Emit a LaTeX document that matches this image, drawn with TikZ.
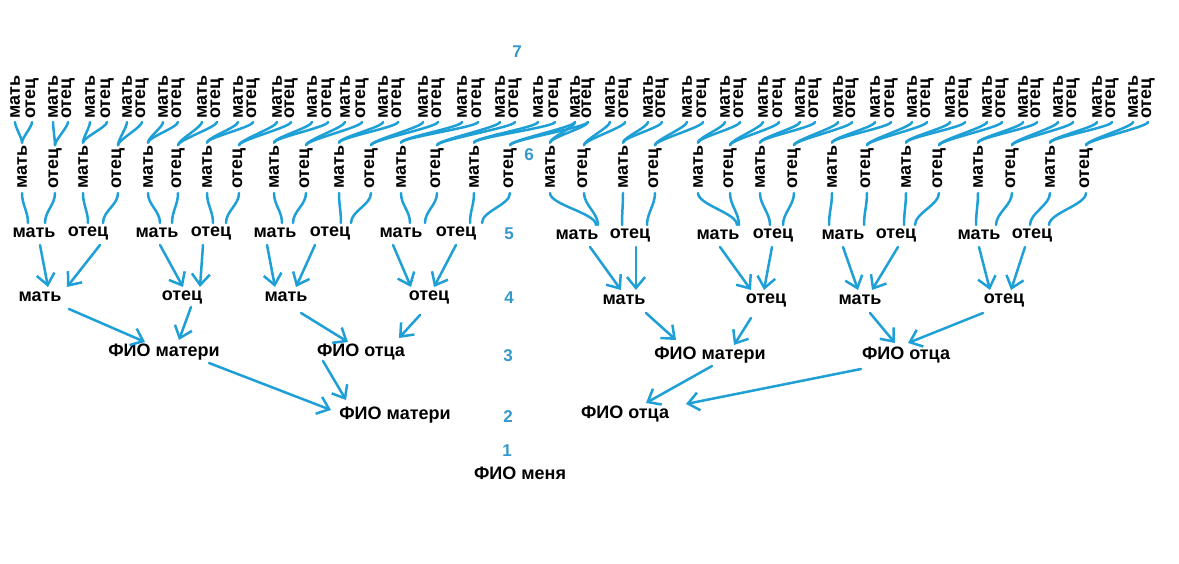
\documentclass[tikz,border=0pt]{standalone}
\usepackage{fontspec}
\setmainfont{Liberation Sans}
\usetikzlibrary{arrows.meta,calc}
\definecolor{arr}{RGB}{30,160,215}
\definecolor{numc}{RGB}{52,152,204}
\begin{document}
\begin{tikzpicture}[x=1pt,y=-1pt,
  lbl/.style={font=\fontsize{18}{21}\selectfont\bfseries, inner sep=0pt, text=black},
  vlbl/.style={lbl, rotate=90, anchor=west},
  numl/.style={font=\fontsize{17}{20}\selectfont\bfseries, text=numc, inner sep=0pt},
  ln/.style={draw=arr, line width=2.5pt, line cap=round, line join=round},
  arw/.style={ln, -{Straight Barb[length=11pt,width=18pt]}}]
\useasboundingbox[fill=white] (0,0) rectangle (1179,564);

% level numbers
\node[numl] (l7) at (517,52) {7};
\node[numl] (l6) at (529,155) {6};
\node[numl] (l5) at (509,234) {5};
\node[numl] (l4) at (509,298) {4};
\node[numl] (l3) at (508,356) {3};
\node[numl] (l2) at (508,417) {2};
\node[numl] (l1) at (507,451) {1};

% level 7 (31 pairs)
\foreach \i/\m/\f in {1/15/32, 2/53/68, 3/90/107, 4/127/142, 5/163/178, 6/202/217,
  7/238/253, 8/277/291, 9/312/328, 10/345/362, 11/383/398, 12/423/438, 13/462/478,
  14/500/515, 15/538/555, 16/575/588, 17/610/625, 18/648/662, 19/687/703, 20/725/740,
  21/763/779, 22/800/815, 23/838/852, 24/875/891, 25/912/927, 26/950/965, 27/987/1002,
  28/1023/1037, 29/1058/1073, 30/1097/1112, 31/1133/1148}{
  \node[vlbl] (m7_\i) at (\m,119) {мать};
  \node[vlbl] (f7_\i) at (\f,119) {отец};
}

% level 6 (32 labels)
\foreach \i/\x/\t in {1/22/мать, 2/55/отец, 3/83/мать, 4/118/отец, 5/148/мать, 6/178/отец,
  7/207/мать, 8/239/отец, 9/274/мать, 10/306/отец, 11/339/мать, 12/371/отец,
  13/401/мать, 14/437/отец, 15/474/мать, 16/510/отец, 17/550/мать, 18/584/отец,
  19/623/мать, 20/655/отец, 21/698/мать, 22/730/отец, 23/760/мать, 24/794/отец,
  25/832/мать, 26/867/отец, 27/906/мать, 28/939/отец, 29/978/мать, 30/1012/отец,
  31/1050/мать, 32/1086/отец}{
  \node[vlbl] (n6_\i) at (\x,189) {\t};
}

% level 5
\foreach \i/\x/\y/\t in {1/34/233/мать, 2/88/233/отец, 3/157/233/мать, 4/211/233/отец,
  5/275/233/мать, 6/330/233/отец, 7/401/233/мать, 8/456/233/отец,
  9/577/235/мать, 10/630/235/отец, 11/718/235/мать, 12/773/235/отец,
  13/843/235/мать, 14/896/235/отец, 15/979/235/мать, 16/1032/235/отец}{
  \node[lbl] (n5_\i) at (\x,\y) {\t};
}

% level 4
\foreach \i/\x/\y/\t in {1/40/297/мать, 2/182/297/отец, 3/286/297/мать, 4/429/297/отец,
  5/624/300/мать, 6/766/300/отец, 7/860/300/мать, 8/1004/300/отец}{
  \node[lbl] (n4_\i) at (\x,\y) {\t};
}

% level 3, 2, 1
\node[lbl] (n3_1) at (164,352) {ФИО матери};
\node[lbl] (n3_2) at (361,352) {ФИО отца};
\node[lbl] (n3_3) at (710,355) {ФИО матери};
\node[lbl] (n3_4) at (906,355) {ФИО отца};
\node[lbl] (n2_1) at (395,415) {ФИО матери};
\node[lbl] (n2_2) at (625,414) {ФИО отца};
\node[lbl] (me) at (520,473) {ФИО меня};

% level 6 -> level 7 pairs
\foreach \i/\p in {1/1,2/2,3/3,4/4,5/5,6/6,7/7,8/8,9/9,10/10,11/11,12/12,13/13,14/14,
  15/15,16/16,17/16,18/17,19/18,20/19,21/20,22/21,23/22,24/23,25/24,26/25,27/26,
  28/27,29/28,30/29,31/30,32/31}{
  \draw[ln] ($(n6_\i.east)+(0,-3)$) .. controls +(0,-5) and +(0,5) .. ($(m7_\p.west)+(0,3)$);
  \draw[ln] ($(n6_\i.east)+(0,-3)$) .. controls +(0,-5) and +(0,5) .. ($(f7_\p.west)+(0,3)$);
}

% level 6 -> level 5
\foreach \i/\k/\dx in {1/1/-6, 2/1/11, 3/2/0, 4/2/15, 5/3/3, 6/3/15, 7/4/2, 8/4/15,
  9/5/7, 10/5/18, 11/6/11, 12/6/21, 13/7/9, 14/7/24, 15/8/14, 16/8/26,
  17/9/19, 18/9/21, 19/10/-8, 20/10/17, 21/11/19, 22/11/21, 23/12/-3, 24/12/10,
  25/13/-14, 26/13/21, 27/14/8, 28/14/19, 29/15/-3, 30/15/17, 31/16/-2, 32/16/17}{
  \draw[ln] ($(n6_\i.west)+(0,4)$) .. controls +(0,12) and +(0,-12) .. ($(n5_\k)+(\dx,-10)$);
}

% level 5 -> level 4
\foreach \a/\sx/\b/\tx in {1/6/1/8, 2/12/1/27, 3/3/2/1, 4/-8/2/18, 5/-8/3/-11, 6/-15/3/10,
  7/-8/4/-18, 8/0/4/5, 9/13/5/-3, 10/6/5/12, 11/2/6/-15, 12/-1/6/-2,
  13/0/7/-2, 14/2/7/12, 15/0/8/-14, 16/-7/8/7}{
  \draw[arw] ($(n5_\a)+(\sx,12)$) -- ($(n4_\b)+(\tx,-10)$);
}

% level 4 -> level 3
\foreach \a/\sx/\sy/\b/\tx/\ty in {1/29/12/1/-19/-10, 2/9/10/1/15/-12, 3/15/16/2/-13/-10,
  4/-9/18/2/38/-14, 5/22/13/3/-34/-15, 6/-15/18/3/24/-10, 7/10/13/4/-11/-12,
  8/-21/13/4/2/-12}{
  \draw[arw] ($(n4_\a)+(\sx,\sy)$) -- ($(n3_\b)+(\tx,\ty)$);
}

% level 3 -> level 2
\draw[arw] ($(n3_1)+(45,11)$) -- ($(n2_1)+(-64,-5)$);
\draw[arw] ($(n3_2)+(-38,9)$) -- ($(n2_1)+(-49,-15)$);
\draw[arw] ($(n3_3)+(2,11)$) -- ($(n2_2)+(21,-11)$);
\draw[arw] ($(n3_4)+(-45,14)$) -- ($(n2_2)+(61,-10)$);
\end{tikzpicture}
\end{document}
